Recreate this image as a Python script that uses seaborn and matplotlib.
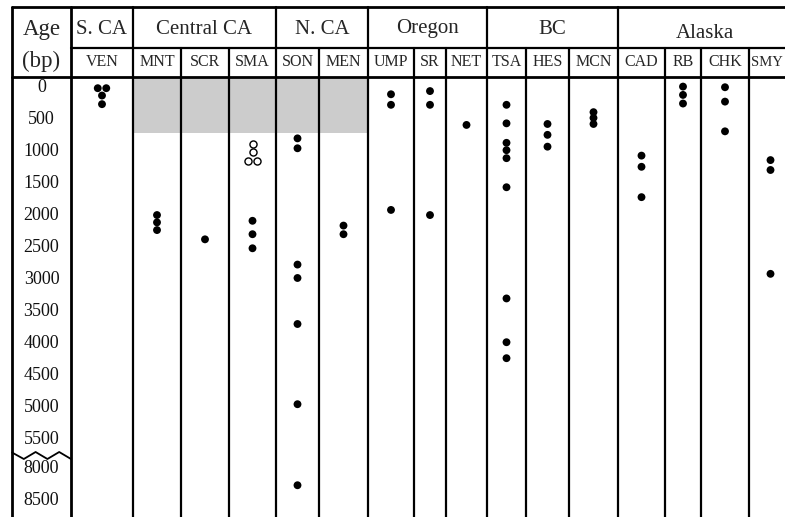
import numpy as np
import pandas as pd
import matplotlib
matplotlib.use("Agg")
import matplotlib.pyplot as plt
import matplotlib.transforms as mtransforms
import seaborn as sns

sns.set_theme(style="white")
plt.rcParams["font.family"] = ["Liberation Serif", "DejaVu Serif"]

# data: ages (years bp) of the dated sites
regions = ["S. CA", "Central CA", "N. CA", "Oregon", "BC", "Alaska"]
region_sizes = [1, 3, 2, 3, 3, 4]
sites = ["VEN", "MNT", "SCR", "SMA", "SON", "MEN", "UMP", "SR", "NET",
         "TSA", "HES", "MCN", "CAD", "RB", "CHK", "SMY"]

ages_filled = {
    "VEN": [30, 30, 145, 280],
    "MNT": [2015, 2130, 2250],
    "SCR": [2395],
    "SMA": [2105, 2315, 2535],
    "SON": [815, 970, 2790, 3000, 3720, 4975, 8285],
    "MEN": [2180, 2315],
    "UMP": [125, 290, 1935],
    "SR": [75, 290, 2015],
    "NET": [605],
    "TSA": [290, 580, 885, 1000, 1125, 1580, 3320, 4005, 4255],
    "HES": [590, 760, 945],
    "MCN": [405, 495, 590],
    "CAD": [1085, 1260, 1735],
    "RB": [5, 135, 270],
    "CHK": [15, 240, 705],
    "SMY": [1155, 1310, 2935],
}
ages_open = {"SMA": [905, 1030, 1175, 1175]}

shaded_sites = ["MNT", "SCR", "SMA", "SON", "MEN"]
shaded_until = 725

tick_ages = [0, 500, 1000, 1500, 2000, 2500, 3000, 3500, 4000, 4500,
             5000, 5500, 8000, 8500]

# layout (pixels): Age column then one width per site
W, H = 785, 517
left = 12
col_w = [59, 62, 48, 48, 47, 43, 49, 46, 32, 41, 39, 43, 49, 47, 36, 48, 43]
edges = left + np.concatenate([[0], np.cumsum(col_w)])
site_left = dict(zip(sites, edges[1:-1]))
site_right = dict(zip(sites, edges[2:]))
site_mid = {s: (site_left[s] + site_right[s]) / 2 for s in sites}
y_top, y_grp, y_sub = 7, 48, 76.5
dodge = 8.5
age_min, age_max = -153, 8782

# broken age axis: 5600-7900 squeezed
B1, B2, K = 5600, 7900, 0.1122
F2 = B1 + (B2 - B1) * K


def fwd(a):
    a = np.asarray(a, dtype=float)
    return np.where(a <= B1, a, np.where(a < B2, B1 + (a - B1) * K, F2 + (a - B2)))


def inv(f):
    f = np.asarray(f, dtype=float)
    return np.where(f <= B1, f, np.where(f < F2, B1 + (f - B1) / K, B2 + (f - F2)))


def to_frame(d, kind):
    rows = []
    for s, ages in d.items():
        for a in sorted(set(ages)):
            n = ages.count(a)
            for i in range(n):
                rows.append({"site": s, "age": a, "kind": kind,
                             "x": site_mid[s] + (i - (n - 1) / 2) * dodge})
    return pd.DataFrame(rows)


df = pd.concat([to_frame(ages_filled, "filled"), to_frame(ages_open, "open")])

fig = plt.figure(figsize=(W / 100, H / 100), dpi=100)
ax = fig.add_axes([0, 0, 1, (H - y_sub) / H])
ax.set_yscale("function", functions=(fwd, inv))
ax.set_xlim(0, W)
ax.set_ylim(age_max, age_min)
ax.axis("off")

lw_out, lw_in = 2.0, 1.6

# grey band
x0, x1 = site_left[shaded_sites[0]], site_right[shaded_sites[-1]]
ax.fill_between([x0, x1], age_min, shaded_until, color="#cccccc", lw=0, zorder=0)

# vertical rules through the data area
for i, e in enumerate(edges):
    ax.axvline(e, color="black", lw=lw_out if i < 2 else lw_in, zorder=1)

sns.scatterplot(data=df[df.kind == "filled"], x="x", y="age", color="black",
                s=32, edgecolor="none", ax=ax, zorder=3, legend=False)
sns.scatterplot(data=df[df.kind == "open"], x="x", y="age", color="white",
                s=26, edgecolor="black", linewidth=1.0, ax=ax, zorder=3,
                legend=False)
ax.set_xlabel("")
ax.set_ylabel("")

# age labels inside the first column
age_mid = (edges[0] + edges[1]) / 2
lab_tr = mtransforms.offset_copy(ax.transData, fig=fig, y=-1.1, units="points")
for t in tick_ages:
    ax.text(age_mid, t, str(t), ha="center", va="center", fontsize=13,
            color="#111111", transform=lab_tr)

# zigzag break mark in the age column
zx = np.linspace(edges[0], edges[1], 6)
zy = np.array([452.5, 459, 452, 459, 452, 459])
ax.plot(zx, (H - zy) / (H - y_sub), color="black", lw=1.3,
        transform=ax.get_xaxis_transform(), clip_on=False, zorder=4)

# header rows
hx = fig.add_axes([0, (H - y_sub) / H, 1, y_sub / H])
hx.set_xlim(0, W)
hx.set_ylim(y_sub, 0)
hx.axis("off")

hx.plot([edges[0], W], [y_top, y_top], color="black", lw=lw_out, clip_on=False)
hx.plot([edges[1], W], [y_grp, y_grp], color="black", lw=lw_in, clip_on=False)
hx.plot([edges[0], W], [y_sub, y_sub], color="black", lw=lw_out, clip_on=False)

hx.text(age_mid, 29, "Age", ha="center", va="center", fontsize=16.5)
hx.text(age_mid, 61, "(bp)", ha="center", va="center", fontsize=16.5)

group_edges = [edges[0], edges[1]]
k = 1
for r, n in zip(regions, region_sizes):
    g0, g1 = edges[k], edges[k + n]
    group_edges.append(g1)
    yy = 33 if r == "Alaska" else 29
    hx.text((g0 + min(g1, W + 6)) / 2, yy, r, ha="center", va="center",
            fontsize=15)
    k += n

for i, e in enumerate(edges):
    if e in group_edges:
        hx.plot([e, e], [y_top, y_sub], color="black",
                lw=lw_out if i < 2 else lw_in, clip_on=False)
    else:
        hx.plot([e, e], [y_grp, y_sub], color="black", lw=lw_in, clip_on=False)

# site codes; the last column runs past the edge, so keep its code inside
for s in sites:
    lx = min(site_mid[s], (site_left[s] + W) / 2)
    hx.text(lx, 62, s, ha="center", va="center",
            fontsize=11.5 if site_right[s] <= W else 10.5)

fig.savefig("out.png", dpi=100)
